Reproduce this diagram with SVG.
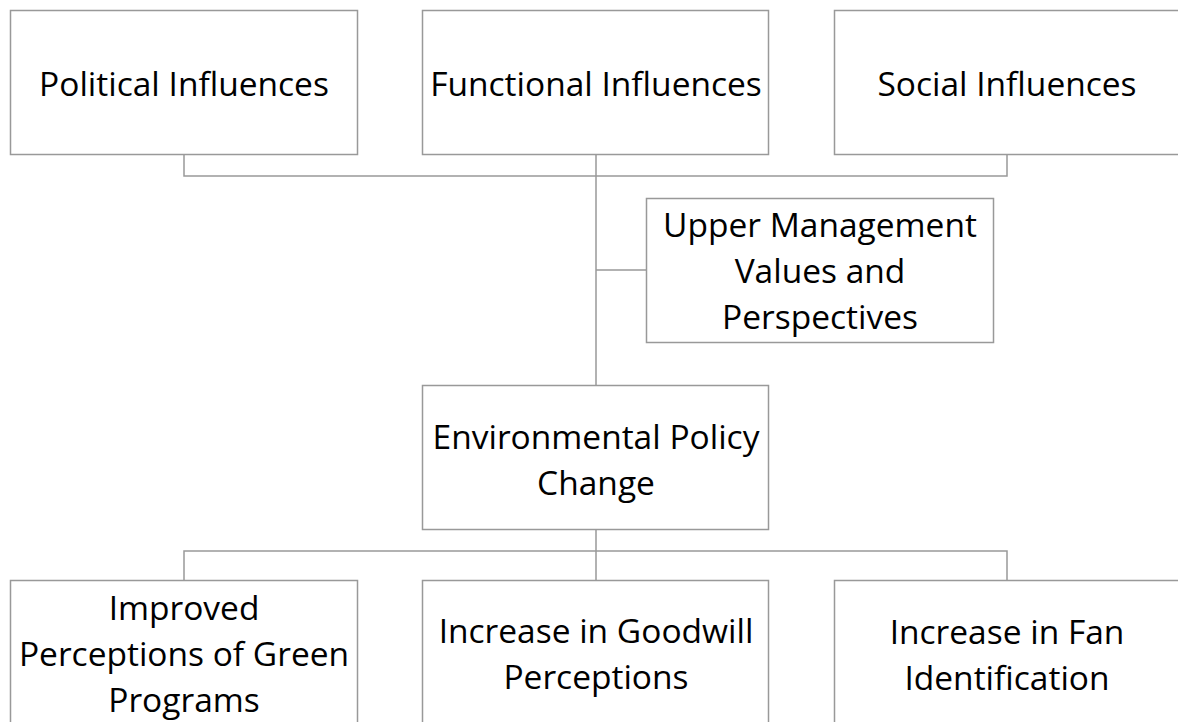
<svg xmlns="http://www.w3.org/2000/svg" width="1178" height="722" viewBox="0 0 1178 722">
<style>
.box{fill:#fff;stroke:#999;stroke-width:1.5}
.t{font-family:"Open Sans","Noto Sans",sans-serif;font-size:33.5px;fill:#000;text-anchor:middle}
.c{fill:none;stroke:#999;stroke-width:1.5}
</style>
<rect width="1178" height="722" fill="#fff"/>
<g id="connectors">
<path class="c" d="M184 154V176H1007V154"/>
<path class="c" d="M596 154V385"/>
<path class="c" d="M596 270H646"/>
<path class="c" d="M596 529V551"/>
<path class="c" d="M184 580V551H1007V580"/>
<path class="c" d="M596 551V580"/>
</g>
<g id="political"><rect class="box" x="10.5" y="10.5" width="347" height="144"/><text class="t" x="184" y="96">Political Influences</text></g>
<g id="functional"><rect class="box" x="422.5" y="10.5" width="346" height="144"/><text class="t" x="596" y="96">Functional Influences</text></g>
<g id="social"><rect class="box" x="834.5" y="10.5" width="360" height="144"/><text class="t" x="1007" y="96">Social Influences</text></g>
<g id="upper"><rect class="box" x="646.5" y="198.5" width="347" height="144"/><text class="t" x="820" y="237">Upper Management</text><text class="t" x="820" y="283">Values and</text><text class="t" x="820" y="329">Perspectives</text></g>
<g id="environmental"><rect class="box" x="422.5" y="385.5" width="346" height="144"/><text class="t" x="596" y="449">Environmental Policy</text><text class="t" x="596" y="495">Change</text></g>
<g id="improved"><rect class="box" x="10.5" y="580.5" width="347" height="160"/><text class="t" x="184" y="620">Improved</text><text class="t" x="184" y="666">Perceptions of Green</text><text class="t" x="184" y="712">Programs</text></g>
<g id="goodwill"><rect class="box" x="422.5" y="580.5" width="346" height="160"/><text class="t" x="596" y="643">Increase in Goodwill</text><text class="t" x="596" y="689">Perceptions</text></g>
<g id="fan"><rect class="box" x="834.5" y="580.5" width="360" height="160"/><text class="t" x="1007" y="644">Increase in Fan</text><text class="t" x="1007" y="690">Identification</text></g>
</svg>
